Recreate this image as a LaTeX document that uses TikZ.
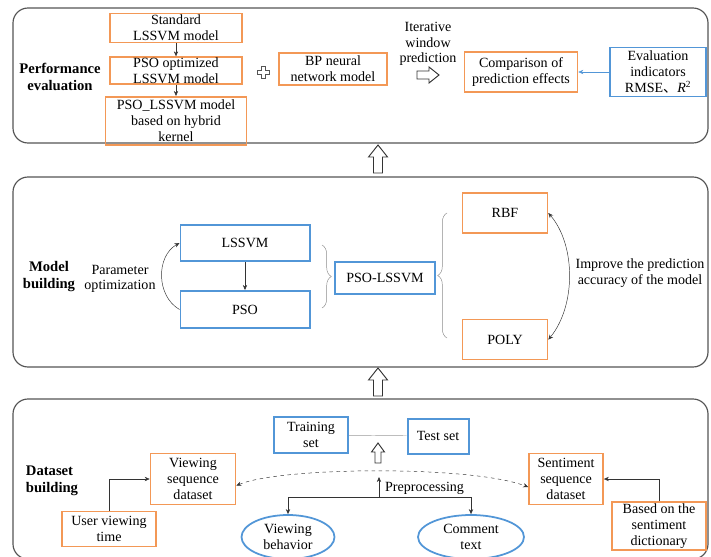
\documentclass[tikz,border=0pt]{standalone}
\usepackage{fontspec}
\setmainfont{Liberation Serif}
\newfontfamily\cjkfont{Noto Sans CJK SC}
\usepackage{tikz}
\usetikzlibrary{shapes.geometric, arrows.meta, positioning, calc, decorations.pathreplacing}
\usepackage{xcolor}
\definecolor{boxorange}{RGB}{243,152,86}
\definecolor{boxblue}{RGB}{82,150,215}
\definecolor{framegray}{RGB}{85,85,85}

\tikzset{
    blockline/.style={draw=black!80, line width=0.8pt, fill=white, line join=miter},
    upblock/.pic={\draw[blockline] (-4.5,14) -- (-4.5,-2) -- (-9.5,-2) -- (0,-14) -- (9.5,-2) -- (4.5,-2) -- (4.5,14) -- cycle;},
    smallup/.pic={\draw[blockline] (-3,10) -- (-3,-1) -- (-6.5,-1) -- (0,-10) -- (6.5,-1) -- (3,-1) -- (3,10) -- cycle;},
    rightblock/.pic={\draw[blockline] (-11,-4) -- (1,-4) -- (1,-8) -- (11,0) -- (1,8) -- (1,4) -- (-11,4) -- cycle;},
    plusmark/.pic={\draw[framegray, line width=0.8pt] (-2,-6) -- (2,-6) -- (2,-2) -- (6,-2) -- (6,2) -- (2,2)
        -- (2,6) -- (-2,6) -- (-2,2) -- (-6,2) -- (-6,-2) -- (-2,-2) -- cycle;}
}

\begin{document}
\begin{tikzpicture}[
    x=0.03cm, y=-0.03cm,
    every node/.style={font=\fontsize{12}{13.4}\selectfont},
    panel/.style={draw=framegray, line width=1pt, rounded corners=0.45cm},
    obox/.style={rectangle, draw=boxorange, line width=1.4pt, inner sep=0pt, align=center},
    bbox/.style={rectangle, draw=boxblue, line width=1.7pt, inner sep=0pt, align=center},
    oval/.style={ellipse, draw=boxblue, line width=1.5pt, inner sep=0pt, align=center},
    title/.style={font=\fontsize{12.5}{14.5}\selectfont\bfseries, align=center},
    arrow/.style={-{Stealth[length=1.5mm, width=1.3mm]}, thin, black!80},
    brace/.style={decorate, decoration={brace, amplitude=0.28cm}, gray!90, thin}
]
\useasboundingbox (0,0) rectangle (711,556);

\draw[panel] (13,8) rectangle (708,143);
\draw[panel] (13,177) rectangle (708,367);
\draw[panel] (13,399) rectangle (708,559);

\pic (up1) at (378,159) {upblock};
\pic (up2) at (378,382) {upblock};

\node[title] (perf) at (60,77) {Performance\\evaluation};
\node[obox, minimum width=3.96cm, minimum height=0.87cm] (std) at (176,28) {Standard\\LSSVM model};
\node[obox, minimum width=3.96cm, minimum height=0.81cm, below=0.39cm of std] (opt) {PSO optimized\\LSSVM model};
\node[obox, minimum width=4.23cm, minimum height=1.44cm, below=0.33cm of opt] (hyb) {PSO\_LSSVM model\\based on hybrid\\kernel};
\pic (plus) at (263,72) {plusmark};
\node[obox, minimum width=3.24cm, minimum height=0.96cm] (bp) at (333,69) {BP neural\\network model};
\node[align=center] (iter) at (428,44) {Iterative\\window\\prediction};
\pic (rt) at (428,75) {rightblock};
\node[obox, minimum width=3.39cm, minimum height=1.2cm] (cmp) at (521,72) {Comparison of\\prediction effects};
\node[bbox, minimum width=2.88cm, minimum height=1.47cm] (eval) at (658,72) {Evaluation\\indicators\\RMSE{\cjkfont 、}\textit{R}\textsuperscript{2}};

\draw[arrow] (std) -- (opt);
\draw[arrow] (opt) -- (hyb);
\draw[arrow, boxblue] (eval) -- (cmp);

\node[title] (model) at (49,277) {Model\\building};
\node[align=center] (param) at (120,279) {Parameter\\optimization};
\node[bbox, minimum width=3.87cm, minimum height=1.08cm] (lssvm) at (245,243) {LSSVM};
\node[bbox, minimum width=3.87cm, minimum height=1.11cm, below=0.84cm of lssvm] (pso) {PSO};
\node[bbox, minimum width=3.0cm, minimum height=0.96cm] (psolssvm) at (385,278) {PSO-LSSVM};
\node[obox, minimum width=2.55cm, minimum height=1.2cm] (rbf) at (505,213) {RBF};
\node[obox, minimum width=2.55cm, minimum height=1.2cm, below=2.55cm of rbf] (poly) {POLY};
\node[align=center] (improve) at (640,273) {Improve the prediction\\accuracy of the model};

\draw[arrow] (lssvm) -- (pso);
\draw[arrow] (pso.west) .. controls (156,296) and (156,256) .. (lssvm.west);
\draw[arrow, {Stealth[length=1.5mm, width=1.3mm]}-{Stealth[length=1.5mm, width=1.3mm]}] (rbf.east) .. controls (576,245) and (576,306) .. (poly.east);
\draw[brace] (322,245) -- (322,308);
\draw[brace] (447,338) -- (447,213);

\node[title, align=left] (data) at (52,481) {Dataset\\building};
\node[bbox, minimum width=2.22cm, minimum height=1.08cm] (train) at (311,435) {Training\\set};
\node[bbox, minimum width=1.83cm, minimum height=1.05cm] (test) at (438,436) {Test set};
\node[obox, minimum width=2.55cm, minimum height=1.53cm] (vsd) at (193,479) {Viewing\\sequence\\dataset};
\node[obox, minimum width=2.22cm, minimum height=1.53cm] (ssd) at (566,479) {Sentiment\\sequence\\dataset};
\node[obox, minimum width=2.82cm, minimum height=1.05cm] (uvt) at (109,529) {User viewing\\time};
\node[obox, minimum width=2.82cm, minimum height=1.44cm] (dict) at (659,526) {Based on the\\sentiment\\dictionary};
\node[oval, minimum width=2.79cm, minimum height=1.32cm] (vb) at (288,537) {Viewing\\behavior};
\node[oval, minimum width=3.18cm, minimum height=1.32cm] (ct) at (471,537) {Comment\\text};
\pic (up3) at (378,453) {smallup};
\coordinate (pre) at (379,497);
\coordinate (preup) at (379,477);
\node[anchor=west] (prelbl) at (381,488) {Preprocessing};

\draw[gray!80] (train) -- (test);
\draw[arrow, dashed, {Stealth[length=1.5mm, width=1.3mm]}-{Stealth[length=1.5mm, width=1.3mm]}] ([yshift=-0.2cm]vsd.east) .. controls (280,467) and (470,465) .. ([yshift=-0.24cm]ssd.west);
\draw[arrow] (pre) -- (preup);
\draw[arrow] (pre) -| (vb);
\draw[arrow] (pre) -| (ct);
\draw[arrow] (uvt) |- (vsd);
\draw[arrow] (dict) |- (ssd);
\end{tikzpicture}
\end{document}
